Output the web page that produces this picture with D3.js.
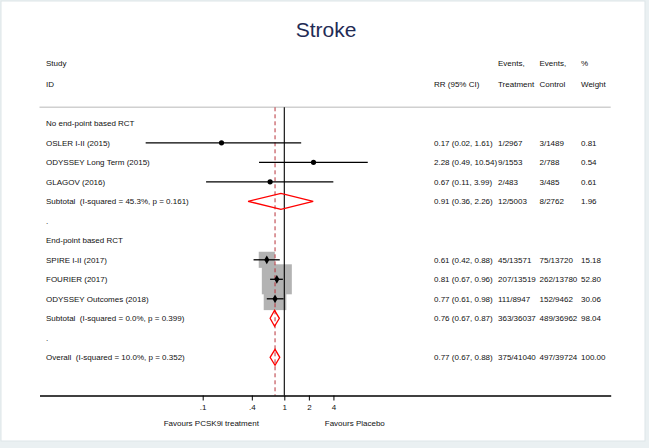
<!DOCTYPE html>
<html>
<head>
<meta charset="utf-8">
<script src="https://cdn.jsdelivr.net/npm/d3@7"></script>
<style>
  html, body { margin: 0; padding: 0; background: #eaf0f2; }
  svg { display: block; font-family: "Liberation Sans", Arial, Helvetica, sans-serif; }
  svg text { white-space: pre; }
</style>
</head>
<body>
<svg id="chart" width="649" height="448"></svg>
<script>
// ---------------- DATA ----------------
const title = "Stroke";
const rowTypes = ["group","study","study","study","subtotal","spacer",
                  "group","study","study","study","subtotal","spacer","overall"];
const rowLabels = [
  "No end-point based RCT",
  "OSLER I-II (2015)",
  "ODYSSEY Long Term (2015)",
  "GLAGOV (2016)",
  "Subtotal  (I-squared = 45.3%, p = 0.161)",
  ".",
  "End-point based RCT",
  "SPIRE I-II (2017)",
  "FOURIER (2017)",
  "ODYSSEY Outcomes (2018)",
  "Subtotal  (I-squared = 0.0%, p = 0.399)",
  ".",
  "Overall  (I-squared = 10.0%, p = 0.352)"
];
const rr     = [null, 0.17, 2.28, 0.67, 0.91, null, null, 0.61, 0.81, 0.77, 0.76, null, 0.77];
const ciLow  = [null, 0.02, 0.49, 0.11, 0.36, null, null, 0.42, 0.67, 0.61, 0.67, null, 0.67];
const ciHigh = [null, 1.61, 10.54, 3.99, 2.26, null, null, 0.88, 0.96, 0.98, 0.87, null, 0.88];
const eventsTreatment = [null, "1/2967", "9/1553", "2/483", "12/5003", null, null,
                         "45/13571", "207/13519", "111/8947", "363/36037", null, "375/41040"];
const eventsControl   = [null, "3/1489", "2/788", "3/485", "8/2762", null, null,
                         "75/13720", "262/13780", "152/9462", "489/36962", null, "497/39724"];
const weights = [null, 0.81, 0.54, 0.61, 1.96, null, null, 15.18, 52.80, 30.06, 98.04, null, 100.00];
const boxedStudies = [false, false, false, false, false, false, false, true, true, true, false, false, false];
const tickValues = [0.1, 0.4, 1, 2, 4];
const tickLabels = [".1", ".4", "1", "2", "4"];
const favoursLeft = "Favours PCSK9i treatment";
const favoursRight = "Favours Placebo";
const headerTop = ["Study", "", "Events,", "Events,", "%"];
const headerBottom = ["ID", "RR (95% CI)", "Treatment", "Control", "Weight"];

// ---------------- LAYOUT ----------------
const svg = d3.select("#chart");
const W = 649, H = 448;
const fs = 8;
svg.append("rect").attr("x", 0).attr("y", 0).attr("width", W).attr("height", H).attr("fill", "#eaf0f2");
svg.append("rect").attr("x", 1).attr("y", 1).attr("width", 644).attr("height", 440)
   .attr("fill", "#ffffff").attr("stroke", "#dde5e8").attr("stroke-width", 1);

const x = d3.scaleLog().domain([0.001, 10000]).range([39.5, 610.7]);
const rowY = d3.scaleLinear().domain([0, 12]).range([123.3, 357.3]);
const headerLineY = 107.3, axisY = 395.5;
const colLabel = 46, colRR = 434, colT = 498, colC = 539.5, colW = 581;
const textDy = 2.9;

// Title
svg.append("text").attr("x", 326).attr("y", 36.5).attr("text-anchor", "middle")
   .attr("font-size", 21).attr("fill", "#1f2b55").text(title);

// Header
const headerCols = [colLabel, colRR, colT, colC, colW];
headerCols.forEach((cx, i) => {
  if (headerTop[i]) svg.append("text").attr("x", cx).attr("y", 63.3 + textDy)
      .attr("font-size", fs).attr("fill", "#111").text(headerTop[i]);
  svg.append("text").attr("x", cx).attr("y", 84 + textDy)
      .attr("font-size", fs).attr("fill", "#111").text(headerBottom[i]);
});

svg.append("line").attr("x1", x.range()[0]).attr("x2", x.range()[1])
   .attr("y1", headerLineY).attr("y2", headerLineY)
   .attr("stroke", "#d0d0d0").attr("stroke-width", 1.5);

// Gray boxes (drawn first)
const boxK = 4.13;
rowTypes.forEach((t, i) => {
  if (boxedStudies[i]) {
    const s = boxK * Math.sqrt(weights[i]);
    svg.append("rect").attr("x", x(rr[i]) - s / 2).attr("y", rowY(i) - s / 2)
       .attr("width", s).attr("height", s).attr("fill", "#b3b3b3");
  }
});

// Reference lines
svg.append("line").attr("x1", x(1)).attr("x2", x(1)).attr("y1", headerLineY).attr("y2", axisY)
   .attr("stroke", "#000").attr("stroke-width", 1.1);
const overallIdx = rowTypes.indexOf("overall");
svg.append("line").attr("x1", x(rr[overallIdx])).attr("x2", x(rr[overallIdx]))
   .attr("y1", headerLineY).attr("y2", axisY)
   .attr("stroke", "#b8333a").attr("stroke-width", 1).attr("stroke-dasharray", "4,3");

// Rows
rowTypes.forEach((t, i) => {
  const y = rowY(i);
  svg.append("text").attr("x", colLabel).attr("y", y + textDy)
     .attr("font-size", fs).attr("fill", "#111").text(rowLabels[i]);
  if (rr[i] == null) return;
  const f = d3.format(".2f");
  svg.append("text").attr("x", colRR).attr("y", y + textDy).attr("font-size", fs).attr("fill", "#111")
     .text(`${f(rr[i])} (${f(ciLow[i])}, ${f(ciHigh[i])})`);
  svg.append("text").attr("x", colT).attr("y", y + textDy).attr("font-size", fs).attr("fill", "#111")
     .text(eventsTreatment[i]);
  svg.append("text").attr("x", colC).attr("y", y + textDy).attr("font-size", fs).attr("fill", "#111")
     .text(eventsControl[i]);
  svg.append("text").attr("x", colW).attr("y", y + textDy).attr("font-size", fs).attr("fill", "#111")
     .text(f(weights[i]));

  if (t === "study") {
    svg.append("line").attr("x1", x(ciLow[i])).attr("x2", x(ciHigh[i]))
       .attr("y1", y).attr("y2", y).attr("stroke", "#000").attr("stroke-width", 1.3);
    if (boxedStudies[i]) {
      svg.append("path").attr("d", d3.symbol(d3.symbolDiamond, 22)())
         .attr("transform", `translate(${x(rr[i])},${y})`).attr("fill", "#000");
    } else {
      svg.append("circle").attr("cx", x(rr[i])).attr("cy", y).attr("r", 2.6).attr("fill", "#000");
    }
  } else {
    const h = 8;
    const pts = [[x(ciLow[i]), y], [x(rr[i]), y - h], [x(ciHigh[i]), y], [x(rr[i]), y + h]];
    svg.append("path").attr("d", "M" + pts.map(p => p.join(",")).join("L") + "Z")
       .attr("fill", "none").attr("stroke", "#ff0000").attr("stroke-width", 1.3);
  }
});

// Axis
const axis = d3.axisBottom(x).tickValues(tickValues)
  .tickFormat((d, i) => tickLabels[i]).tickSize(5).tickSizeOuter(0);
const gAxis = svg.append("g").attr("transform", `translate(0,${axisY})`).call(axis);
gAxis.select(".domain").attr("stroke", "#000").attr("stroke-width", 1.4);
gAxis.selectAll(".tick line").attr("stroke", "#000").attr("stroke-width", 1);
gAxis.selectAll(".tick text").attr("font-size", fs).attr("fill", "#111")
     .attr("font-family", "'Liberation Sans', Arial, sans-serif").attr("dy", "0.85em");

svg.append("text").attr("x", x(1) - 73).attr("y", 423 + textDy).attr("text-anchor", "middle")
   .attr("font-size", fs).attr("fill", "#111").text(favoursLeft);
svg.append("text").attr("x", x(1) + 70.5).attr("y", 423 + textDy).attr("text-anchor", "middle")
   .attr("font-size", fs).attr("fill", "#111").text(favoursRight);
</script>
</body>
</html>
